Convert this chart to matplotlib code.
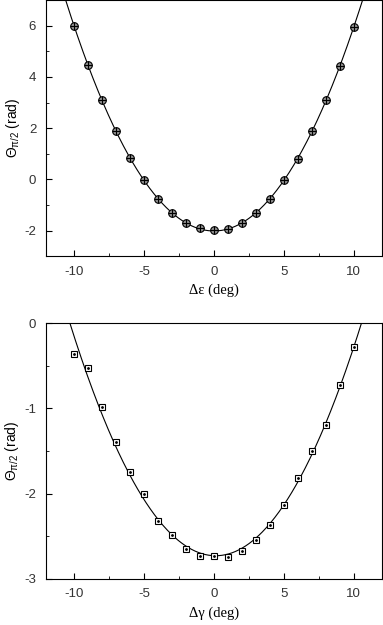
import numpy as np
import matplotlib.pyplot as plt

plt.rcParams['axes.unicode_minus'] = False

# datos
x = np.arange(-10, 11)
theta_e = [5.99, 4.48, 3.10, 1.87, 0.84, -0.03, -0.76, -1.32, -1.70, -1.91, -1.99,
           -1.94, -1.70, -1.31, -0.76, -0.04, 0.79, 1.88, 3.11, 4.41, 5.95]
theta_g = [-0.36, -0.53, -0.99, -1.39, -1.75, -2.01, -2.32, -2.49, -2.65, -2.73, -2.73,
           -2.74, -2.68, -2.54, -2.37, -2.14, -1.82, -1.50, -1.20, -0.73, -0.28]

xf = np.linspace(-12, 12, 400)

fig = plt.figure(figsize=(3.83, 6.25), dpi=100)
ax1 = fig.add_axes([0.120, 0.590, 0.877, 0.410])
ax2 = fig.add_axes([0.120, 0.074, 0.877, 0.409])

ylab = r'$\mathregular{\Theta_{\pi/2}}$ (rad)'

# panel superior
p1 = np.polyfit(x, theta_e, 4)
ax1.plot(xf, np.polyval(p1, xf), 'k-', lw=0.8)
ax1.plot(x, theta_e, 'o', ms=5.5, mfc='#909090', mec='k', mew=0.8)
ax1.plot(x, theta_e, '+', ms=5.5, color='k', mew=0.8)
ax1.set_xlim(-12, 12)
ax1.set_ylim(-3, 7)
ax1.set_yticks([-2, 0, 2, 4, 6])
ax1.set_yticks([-3, -1, 1, 3, 5], minor=True)
ax1.set_xlabel('Δε (deg)', family='Liberation Serif', fontsize=10.5)
ax1.set_ylabel(ylab, family='Liberation Sans', fontsize=10, labelpad=2)

# panel inferior
p2 = np.polyfit(x, theta_g, 2)
ax2.plot(xf, np.polyval(p2, xf), 'k-', lw=0.8)
ax2.plot(x, theta_g, 's', ms=5, mfc='white', mec='k', mew=0.8)
ax2.plot(x, theta_g, '.', ms=2, color='k')
ax2.set_xlim(-12, 12)
ax2.set_ylim(-3, 0)
ax2.set_yticks([-3, -2, -1, 0])
ax2.set_yticks([-2.5, -1.5, -0.5], minor=True)
ax2.set_xlabel('Δγ (deg)', family='Liberation Serif', fontsize=10.5)
ax2.set_ylabel(ylab, family='Liberation Sans', fontsize=10, labelpad=2)

for ax in (ax1, ax2):
    ax.set_xticks([-10, -5, 0, 5, 10])
    ax.set_xticks([-7.5, -2.5, 2.5, 7.5], minor=True)
    ax.tick_params(which='both', direction='in', top=False, right=False)
    ax.tick_params(which='major', length=4, pad=7)
    ax.tick_params(which='minor', length=2.5)
    for lab in ax.get_xticklabels() + ax.get_yticklabels():
        lab.set_fontfamily('Liberation Sans')
        lab.set_fontsize(9.5)
        lab.set_color('#333333')
    for s in ax.spines.values():
        s.set_linewidth(0.8)

fig.savefig('out.png', dpi=100)
